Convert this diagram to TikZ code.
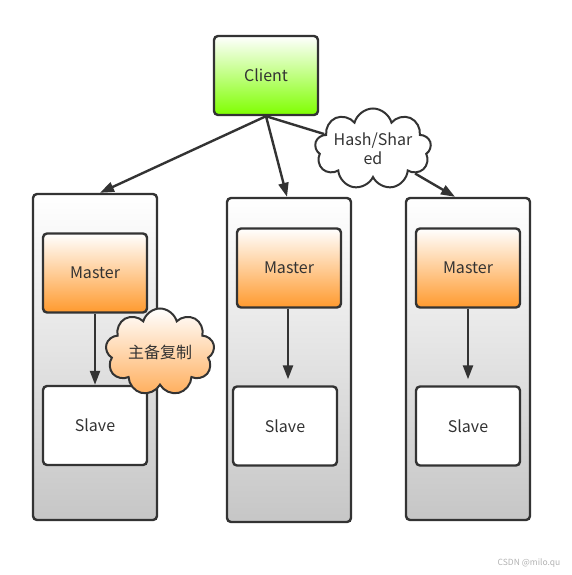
\documentclass[tikz,border=0pt]{standalone}
\usepackage{fontspec}
\setmainfont{Noto Sans CJK SC}
\usetikzlibrary{arrows.meta,shapes.symbols}
\definecolor{ink}{HTML}{333333}
\definecolor{clientgreen}{HTML}{7FFF00}
\definecolor{masterorange}{HTML}{FF9A2E}
\definecolor{boxgray}{HTML}{C6C6C6}
\definecolor{cloudpeach}{HTML}{FFAE5C}

\begin{document}
\begin{tikzpicture}[x=1pt,y=-1pt,font=\fontsize{16}{19}\selectfont,text=ink,
 box/.style={draw=ink,line width=2.4pt,rounded corners=4pt,minimum width=104pt,minimum height=79pt,inner sep=0pt},
 grp/.style={box,minimum width=124pt,top color=white,bottom color=boxgray},
 master/.style={box,top color=white,bottom color=masterorange},
 slave/.style={box,fill=white},
 note/.style={cloud,cloud puffs=9,cloud ignores aspect,draw=ink,line width=2pt,inner sep=0pt,align=center},
 link/.style={draw=ink,line width=2.4pt},
 arr/.style={link,-{Triangle[length=14pt,width=10pt]}}]
\useasboundingbox (0,0) rectangle (571,575);
\node[box,top color=white,bottom color=clientgreen] (client) at (266,75.5) {Client};
\node[grp,minimum height=326pt] (colA) at (95,357) {};
\node[grp,minimum height=324pt] (colB) at (289,360) {};
\node[grp,minimum height=322pt] (colC) at (468,359) {};
\node[master] (mA) at (95,273) {Master};
\node[master] (mB) at (289,268) {Master};
\node[master] (mC) at (468,268) {Master};
\node[slave] (sA) at (95,425.5) {Slave};
\node[slave] (sB) at (285,426) {Slave};
\node[slave] (sC) at (468,426) {Slave};
\node[note,minimum width=111pt,minimum height=81pt] (hash) at (373,149) {Hash/Shar\\ed};
\draw[arr] (client.south) -- ([xshift=5pt]colA.north);
\draw[arr] (client.south) -- ([xshift=-2pt]colB.north);
\draw[link] (client.south) -- (hash);
\draw[arr] (hash) -- ([xshift=-13pt]colC.north);
\draw[arr] (mA.south) -- (mA.south |- sA.north);
\draw[arr,shorten >=6pt] ([xshift=-1pt]mB.south) -- ([xshift=-1pt]mB.south |- sB.north);
\draw[arr,shorten >=6pt] (mC.south) -- (mC.south |- sC.north);
\node[note,top color=white,bottom color=cloudpeach,minimum width=109pt,minimum height=87pt] (sync) at (160,352) {主备复制};
\node[font=\fontsize{8.5}{10}\selectfont,text=black!30] (mark) at (529,563) {CSDN @milo.qu};
\end{tikzpicture}
\end{document}
